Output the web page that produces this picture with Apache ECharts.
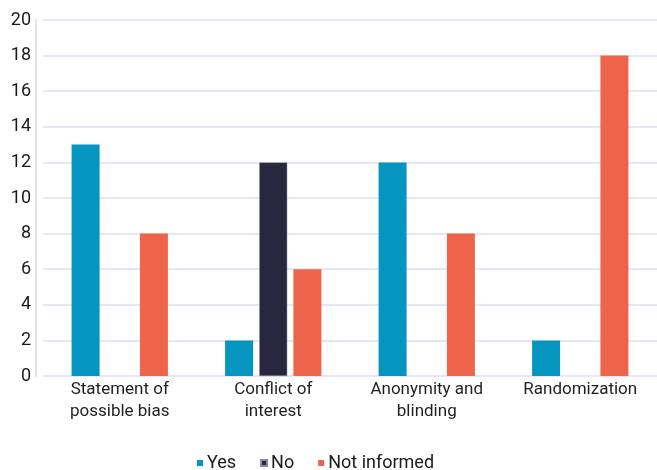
<!DOCTYPE html>
<html>
<head>
<meta charset="utf-8">
<style>
  html, body { margin: 0; padding: 0; background: #fff; }
  .chart { width: 657px; height: 470px; }
</style>
<script src="https://cdn.jsdelivr.net/npm/echarts@6/dist/echarts.min.js"></script>
</head>
<body>
<div class="chart"></div>
<script>
// 数据
var categories = ['Statement of\npossible bias', 'Conflict of\ninterest', 'Anonymity and\nblinding', 'Randomization'];
var yesData = [13, 2, 12, 2];
var noData = ['-', 12, '-', '-'];
var notInformedData = [8, 6, 8, 18];
var seriesNames = ['Yes', 'No', 'Not informed'];

var myChart = echarts.init(document.querySelector('.chart'));
var option = {
    animation: false,
    textStyle: { fontFamily: 'Roboto' },
    grid: {
        left: 43,
        right: 0,
        top: 20,
        bottom: 94,
    },
    legend: {
        left: 192,
        top: 449,
        itemWidth: 6,
        itemHeight: 6,
        itemGap: 24,
        icon: 'rect',
        textStyle: { color: '#1a1a1a', fontSize: 18, padding: [0, 0, 0, -1] },
        data: seriesNames,
    },
    xAxis: {
        type: 'category',
        data: categories,
        axisLine: { show: false },
        axisTick: { show: false },
        axisLabel: {
            color: '#1f1f1f',
            fontSize: 17,
            lineHeight: 22,
            margin: 3,
            interval: 0,
        },
    },
    yAxis: {
        type: 'value',
        min: 0,
        max: 20,
        interval: 2,
        offset: 7,
        axisLine: {
            show: true,
            lineStyle: { color: '#dfe4f2', width: 2 },
        },
        axisTick: { show: false },
        axisLabel: {
            color: '#1a1a1a',
            fontSize: 18,
            margin: 5,
        },
        splitLine: {
            lineStyle: { color: '#e4e8f4', width: 2 },
        },
    },
    series: [{
        name: seriesNames[0],
        type: 'bar',
        barWidth: 28,
        barGap: '22%',
        itemStyle: { color: '#0695c1' },
        data: yesData,
    }, {
        name: seriesNames[1],
        type: 'bar',
        barWidth: 28,
        barGap: '22%',
        itemStyle: { color: '#29273f', borderColor: '#8a8aa0', borderWidth: 0.5 },
        data: noData,
    }, {
        name: seriesNames[2],
        type: 'bar',
        barWidth: 28,
        barGap: '22%',
        itemStyle: { color: '#ee644b' },
        data: notInformedData,
    }]
};

myChart.setOption(option);
</script>
</body>
</html>
